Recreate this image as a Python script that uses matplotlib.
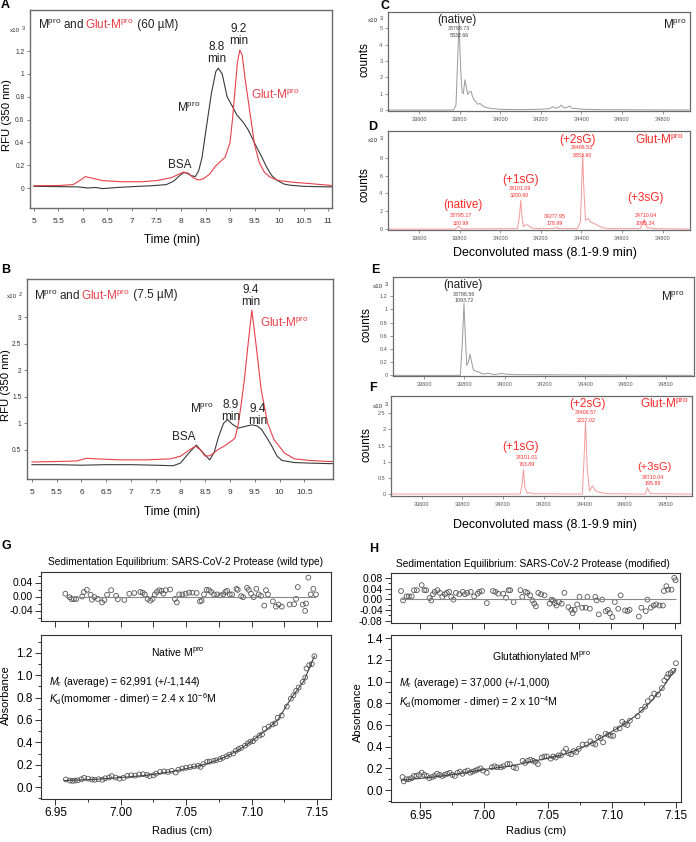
import matplotlib
matplotlib.use('Agg')
import matplotlib.pyplot as plt
from matplotlib import transforms, font_manager
from matplotlib.ticker import MultipleLocator, FormatStrFormatter

plt.rcParams['font.family'] = ['Liberation Sans', 'DejaVu Sans']
plt.rcParams['mathtext.fontset'] = 'custom'
plt.rcParams['mathtext.rm'] = 'Liberation Sans'
plt.rcParams['mathtext.it'] = 'Liberation Sans:italic'
plt.rcParams['mathtext.bf'] = 'Liberation Sans:bold'
plt.rcParams['axes.unicode_minus'] = False

W, H = 696, 842
installed = {f.name for f in font_manager.fontManager.ttflist}
if 'Liberation Sans Narrow' in installed:
    NARROW = ['Liberation Sans Narrow', 'DejaVu Sans']
    TICK_Y, TICK_X = 5.5, 6.5
else:
    NARROW = ['Liberation Sans', 'DejaVu Sans']
    TICK_Y, TICK_X = 4.8, 6.0
BLACK = '#3a3a3a'
RED = '#e8404a'
PINK = '#f49a9a'
LBLRED = '#ff2a2a'
GRAY = '#9a9a9a'
MPRO = r'M$^{\rm pro}$'
GLUT = r'Glut-M$^{\rm pro}$'

# ---- A: SEC, 60 uM (x10^3 RFU)
a_time_black = [5.0, 5.5, 5.9, 6.1, 6.25, 6.4, 6.55, 6.7, 7.0, 7.4, 7.7, 7.85, 7.95, 8.05, 8.12, 8.2,
                8.29, 8.36, 8.43, 8.52, 8.62, 8.71, 8.76, 8.84, 8.94, 9.01, 9.14, 9.28, 9.37, 9.45,
                9.54, 9.65, 9.75, 9.85, 9.95, 10.1, 10.22, 10.5, 11.0, 11.08]
a_rfu_black = [0.015, 0.012, 0.01, 0.0, 0.005, -0.005, 0.0, 0.005, 0.012, 0.02, 0.03, 0.06, 0.1, 0.135,
               0.13, 0.11, 0.1, 0.15, 0.27, 0.54, 0.83, 1.02, 1.05, 1.0, 0.8, 0.745, 0.64, 0.57, 0.51,
               0.44, 0.36, 0.27, 0.18, 0.11, 0.07, 0.035, 0.025, 0.015, 0.01, 0.01]
a_time_red = [5.0, 5.5, 5.8, 5.95, 6.05, 6.2, 6.4, 6.8, 7.2, 7.5, 7.8, 7.95, 8.05, 8.15, 8.25, 8.35,
              8.45, 8.58, 8.7, 8.8, 8.9, 9.0, 9.05, 9.1, 9.15, 9.2, 9.25, 9.3, 9.4, 9.5, 9.6, 9.7,
              9.8, 9.9, 10.0, 10.3, 10.6, 11.0, 11.08]
a_rfu_red = [0.02, 0.022, 0.03, 0.07, 0.1, 0.085, 0.065, 0.055, 0.055, 0.065, 0.09, 0.12, 0.14, 0.13,
             0.09, 0.07, 0.08, 0.12, 0.19, 0.23, 0.27, 0.4, 0.6, 0.85, 1.1, 1.21, 1.16, 0.98, 0.68,
             0.38, 0.22, 0.14, 0.1, 0.08, 0.065, 0.05, 0.04, 0.025, 0.02]

# ---- B: SEC, 7.5 uM (x10^2 RFU)
b_time_black = [5.0, 5.5, 6.0, 6.5, 7.0, 7.5, 7.85, 8.0, 8.15, 8.32, 8.45, 8.59, 8.68, 8.77, 8.87,
                8.95, 9.05, 9.17, 9.3, 9.44, 9.55, 9.64, 9.75, 9.85, 9.95, 10.05, 10.3, 10.6, 11.0, 11.08]
b_rfu_black = [0.22, 0.22, 0.21, 0.22, 0.22, 0.21, 0.2, 0.25, 0.42, 0.59, 0.45, 0.31, 0.45, 0.75, 1.0,
               1.07, 0.98, 0.91, 0.94, 0.97, 0.95, 0.88, 0.72, 0.56, 0.38, 0.3, 0.26, 0.25, 0.24, 0.24]
b_time_red = [5.0, 5.5, 5.9, 6.1, 6.3, 6.8, 7.3, 7.8, 8.0, 8.15, 8.3, 8.4, 8.5, 8.6, 8.75, 8.9, 9.05,
              9.1, 9.16, 9.22, 9.29, 9.36, 9.44, 9.53, 9.63, 9.76, 9.89, 10.1, 10.3, 10.6, 11.0, 11.08]
b_rfu_red = [0.27, 0.28, 0.29, 0.34, 0.33, 0.31, 0.31, 0.33, 0.38, 0.48, 0.57, 0.5, 0.38, 0.39, 0.5,
             0.58, 0.68, 0.72, 0.95, 1.32, 1.82, 2.45, 3.13, 2.45, 1.63, 1.0, 0.69, 0.44, 0.33, 0.3,
             0.28, 0.28]

# ---- C-F: deconvoluted mass spectra (x10^3 counts)
c_mass = [33450, 33770, 33782, 33790, 33797, 33805, 33812, 33818, 33826, 33833, 33840, 33848, 33856,
          33864, 33872, 33880, 33890, 33900, 33910, 33920, 33935, 33950, 33970, 34000, 34100, 34200,
          34240, 34260, 34275, 34290, 34300, 34315, 34330, 34340, 34355, 34380, 34400, 34500, 34930]
c_counts = [0, 0, 0.3, 3.0, 5.33, 2.5, 1.1, 1.0, 1.85, 1.4, 0.95, 1.1, 1.15, 0.8, 0.6, 0.5, 0.35, 0.4,
            0.3, 0.2, 0.15, 0.1, 0.08, 0.04, 0.02, 0.05, 0.08, 0.2, 0.1, 0.18, 0.3, 0.12, 0.15, 0.25,
            0.1, 0.08, 0.05, 0.02, 0]
d_mass = [33450, 33780, 33795, 33810, 34085, 34095, 34101, 34108, 34115, 34125, 34135, 34145, 34160,
          34200, 34270, 34278, 34286, 34380, 34395, 34400, 34406, 34412, 34420, 34433, 34445, 34466,
          34480, 34495, 34510, 34550, 34690, 34705, 34710, 34716, 34725, 34740, 34760, 34930]
d_counts = [0, 0, 0.32, 0.02, 0.05, 1.5, 3.2, 1.2, 0.3, 0.45, 0.5, 0.25, 0.1, 0.05, 0.08, 0.18, 0.06,
            0.05, 0.8, 4.0, 8.35, 4.5, 1.0, 1.2, 0.8, 0.6, 0.4, 0.25, 0.12, 0.05, 0.05, 0.8, 1.1, 0.5,
            0.1, 0.15, 0.05, 0]
e_mass = [33450, 33780, 33790, 33798, 33806, 33812, 33820, 33828, 33836, 33845, 33860, 33872, 33890,
          33920, 33950, 33985, 34000, 34050, 34930]
e_counts = [0, 0, 0.5, 1.09, 0.5, 0.15, 0.2, 0.32, 0.2, 0.08, 0.06, 0.05, 0.02, 0.03, 0.01, 0.03,
            0.02, 0.01, 0]
f_mass = [33450, 34085, 34095, 34101, 34108, 34120, 34132, 34145, 34390, 34398, 34406, 34414, 34425,
          34440, 34455, 34470, 34490, 34520, 34700, 34705, 34710, 34716, 34725, 34930]
f_counts = [0, 0, 0.35, 0.76, 0.2, 0.02, 0.05, 0.01, 0, 1.0, 2.23, 0.8, 0.1, 0.25, 0.1, 0.06, 0.03,
            0.01, 0, 0.1, 0.2, 0.1, 0.01, 0]

# ---- G: sedimentation equilibrium, wild type
g_radius = [6.958, 6.961, 6.963, 6.965, 6.967, 6.970, 6.972, 6.975, 6.978, 6.980, 6.983, 6.986, 6.988,
            6.991, 6.993, 6.996, 6.999, 7.002, 7.005, 7.008, 7.011, 7.014, 7.017, 7.020, 7.022, 7.025,
            7.027, 7.030, 7.033, 7.036, 7.039, 7.042, 7.044, 7.047, 7.050, 7.053, 7.056, 7.059, 7.061,
            7.063, 7.066, 7.068, 7.071, 7.073, 7.076, 7.078, 7.081, 7.083, 7.086, 7.088, 7.090, 7.092,
            7.095, 7.097, 7.099, 7.101, 7.103, 7.106, 7.108, 7.110, 7.113, 7.116, 7.118, 7.120, 7.123,
            7.127, 7.130, 7.132, 7.134, 7.136, 7.139, 7.141, 7.142, 7.144, 7.146, 7.148]
g_abs = [0.068, 0.058, 0.055, 0.058, 0.06, 0.07, 0.082, 0.075, 0.068, 0.065, 0.07, 0.065, 0.078, 0.085,
         0.098, 0.085, 0.075, 0.082, 0.1, 0.105, 0.102, 0.112, 0.115, 0.108, 0.098, 0.105, 0.12, 0.135,
         0.14, 0.135, 0.145, 0.13, 0.155, 0.165, 0.172, 0.178, 0.185, 0.19, 0.18, 0.205, 0.225, 0.228,
         0.235, 0.24, 0.25, 0.262, 0.275, 0.29, 0.3, 0.325, 0.34, 0.35, 0.37, 0.39, 0.405, 0.41, 0.435,
         0.46, 0.47, 0.52, 0.54, 0.56, 0.57, 0.62, 0.64, 0.72, 0.79, 0.82, 0.86, 0.89, 0.94, 0.98, 1.06,
         1.09, 1.1, 1.17]
g_fit_r = [6.957, 6.98, 7.00, 7.02, 7.04, 7.06, 7.07, 7.08, 7.09, 7.10, 7.11, 7.12, 7.13, 7.14, 7.148]
g_fit_a = [0.058, 0.068, 0.085, 0.105, 0.14, 0.19, 0.225, 0.27, 0.33, 0.41, 0.5, 0.6, 0.79, 0.95, 1.17]
g_res_r = [6.9576, 6.9609, 6.9622, 6.9642, 6.9660, 6.9705, 6.9718, 6.9741, 6.9769, 6.9779, 6.9799,
           6.9824, 6.9857, 6.9875, 6.9895, 6.9926, 6.9964, 6.9977, 7.0027, 7.0065, 7.0103, 7.0149,
           7.0167, 7.0184, 7.0205, 7.0225, 7.0243, 7.0260, 7.0276, 7.0293, 7.0311, 7.0326, 7.0344,
           7.0377, 7.0413, 7.0428, 7.0446, 7.0471, 7.0496, 7.0522, 7.0547, 7.0580, 7.0605, 7.0618,
           7.0636, 7.0656, 7.0674, 7.0691, 7.0712, 7.0737, 7.0762, 7.0783, 7.0800, 7.0813, 7.0833,
           7.0851, 7.0884, 7.0894, 7.0920, 7.0935, 7.0965, 7.0978, 7.0996, 7.1016, 7.1036, 7.1054,
           7.1072, 7.1097, 7.1110, 7.1125, 7.1163, 7.1186, 7.1206, 7.1231, 7.1290, 7.1325, 7.1340,
           7.1353, 7.1391, 7.1409, 7.1416, 7.1434, 7.1452, 7.1472, 7.1492]
g_res = [0.008, -0.002, -0.007, -0.008, -0.007, 0.0, 0.013, 0.019, 0.005, -0.009, -0.002, -0.007,
         -0.017, -0.010, 0.005, 0.018, 0.002, -0.008, -0.010, 0.008, 0.010, 0.013, 0.011, 0.006,
         -0.007, -0.012, -0.007, 0.006, 0.013, 0.018, 0.016, 0.008, 0.018, 0.020, -0.007, -0.017,
         0.006, 0.006, 0.008, 0.011, 0.011, 0.010, -0.014, -0.012, 0.006, 0.019, 0.018, 0.013, 0.006,
         0.006, 0.003, 0.006, 0.013, 0.016, 0.006, 0.006, 0.022, 0.019, 0.001, -0.002, 0.025, 0.019,
         0.008, -0.002, 0.022, 0.006, 0.002, -0.026, 0.018, 0.006, -0.014, -0.029, -0.023, -0.029,
         -0.023, -0.022, -0.007, 0.027, -0.023, -0.041, -0.020, 0.054, 0.006, 0.022, 0.006]

# ---- H: sedimentation equilibrium, modified
h_radius = [6.936, 6.937, 6.939, 6.941, 6.943, 6.945, 6.947, 6.949, 6.951, 6.953, 6.955, 6.957, 6.959,
            6.961, 6.963, 6.965, 6.967, 6.969, 6.971, 6.973, 6.975, 6.977, 6.979, 6.981, 6.983, 6.985,
            6.987, 6.989, 6.991, 6.993, 6.995, 6.997, 6.999, 7.002, 7.006, 7.008, 7.010, 7.013, 7.015,
            7.018, 7.020, 7.023, 7.025, 7.030, 7.032, 7.034, 7.036, 7.038, 7.040, 7.042, 7.045, 7.047,
            7.049, 7.052, 7.054, 7.056, 7.058, 7.060, 7.062, 7.064, 7.066, 7.068, 7.070, 7.072, 7.074,
            7.077, 7.080, 7.083, 7.085, 7.087, 7.089, 7.091, 7.093, 7.095, 7.097, 7.099, 7.101, 7.103,
            7.106, 7.108, 7.110, 7.112, 7.114, 7.120, 7.123, 7.126, 7.128, 7.131, 7.133, 7.136, 7.139,
            7.141, 7.143, 7.144, 7.146, 7.148, 7.150]
h_abs = [0.12, 0.08, 0.10, 0.10, 0.11, 0.13, 0.13, 0.14, 0.16, 0.14, 0.13, 0.11, 0.12, 0.13, 0.15,
         0.14, 0.13, 0.14, 0.15, 0.16, 0.14, 0.13, 0.16, 0.17, 0.15, 0.17, 0.18, 0.16, 0.17, 0.18, 0.19,
         0.20, 0.18, 0.16, 0.21, 0.22, 0.21, 0.21, 0.22, 0.24, 0.24, 0.21, 0.20, 0.27, 0.25, 0.27, 0.28,
         0.27, 0.26, 0.24, 0.30, 0.31, 0.31, 0.29, 0.31, 0.30, 0.32, 0.32, 0.35, 0.38, 0.34, 0.33, 0.36,
         0.35, 0.38, 0.42, 0.42, 0.45, 0.43, 0.42, 0.49, 0.48, 0.44, 0.52, 0.51, 0.50, 0.50, 0.56, 0.57,
         0.63, 0.61, 0.60, 0.64, 0.68, 0.74, 0.77, 0.82, 0.85, 0.89, 0.88, 0.94, 1.01, 1.04, 1.07, 1.08,
         1.10, 1.17]
h_fit_r = [6.935, 6.96, 6.98, 7.00, 7.02, 7.04, 7.06, 7.07, 7.08, 7.09, 7.10, 7.11, 7.12, 7.13, 7.14, 7.15]
h_fit_a = [0.09, 0.12, 0.15, 0.19, 0.22, 0.27, 0.32, 0.36, 0.41, 0.47, 0.54, 0.61, 0.70, 0.81, 0.95, 1.12]
h_res_r = [6.9349, 6.9365, 6.9392, 6.9411, 6.9433, 6.9451, 6.9473, 6.9511, 6.9532, 6.9546, 6.9573,
           6.9586, 6.9600, 6.9613, 6.9635, 6.9654, 6.9673, 6.9694, 6.9708, 6.9726, 6.9743, 6.9761,
           6.9780, 6.9807, 6.9834, 6.9850, 6.9869, 6.9896, 6.9923, 6.9950, 6.9964, 6.9985, 7.0023,
           7.0071, 7.0090, 7.0112, 7.0152, 7.0174, 7.0193, 7.0206, 7.0233, 7.0287, 7.0301, 7.0327,
           7.0341, 7.0363, 7.0381, 7.0395, 7.0408, 7.0427, 7.0449, 7.0476, 7.0516, 7.0530, 7.0543,
           7.0557, 7.0570, 7.0589, 7.0611, 7.0632, 7.0664, 7.0686, 7.0697, 7.0713, 7.0732, 7.0751,
           7.0772, 7.0799, 7.0813, 7.0832, 7.0875, 7.0885, 7.0902, 7.0929, 7.0956, 7.0974, 7.0988,
           7.1009, 7.1028, 7.1055, 7.1074, 7.1109, 7.1128, 7.1144, 7.1217, 7.1236, 7.1271, 7.1284,
           7.1311, 7.1333, 7.1352, 7.1379, 7.1406, 7.1414, 7.1433, 7.1446, 7.1473, 7.1495, 7.1505]
h_res = [0.031, -0.004, 0.011, 0.011, 0.011, 0.034, 0.034, 0.053, 0.034, 0.034, 0.005, -0.004, 0.019,
         0.028, 0.034, 0.024, 0.009, 0.019, 0.024, 0.028, 0.009, -0.001, 0.024, 0.019, 0.028, 0.019,
         0.024, 0.028, 0.011, 0.021, 0.028, 0.031, -0.014, 0.031, 0.028, 0.021, 0.021, 0.006, 0.034,
         0.034, -0.010, 0.034, 0.009, 0.028, 0.024, 0.015, -0.004, -0.016, -0.026, 0.024, 0.019, 0.015,
         -0.016, -0.001, -0.004, -0.014, -0.023, -0.010, -0.016, 0.024, -0.029, -0.039, -0.051, -0.039,
         -0.019, 0.009, -0.031, -0.031, 0.009, -0.035, 0.009, -0.004, -0.056, -0.001, -0.044, -0.039,
         -0.051, -0.066, -0.010, -0.035, 0.015, -0.041, -0.044, -0.039, -0.064, -0.031, -0.044, -0.001,
         -0.031, -0.023, -0.019, -0.023, -0.023, 0.031, 0.049, 0.036, 0.036, 0.080, 0.071]


def rect(x0, y0, x1, y1):
    return [x0 / W, 1 - y1 / H, (x1 - x0) / W, (y1 - y0) / H]


def ftext(fig, x, y, s, **kw):
    return fig.text(x / W, 1 - y / H, s, **kw)


def multicolor(ax, x, y, parts, size=8.5):
    renderer = ax.figure.canvas.get_renderer()
    t = ax.transData
    for s, c in parts:
        txt = ax.text(x, y, s, color=c, transform=t, fontsize=size, va='center', ha='left')
        ex = txt.get_window_extent(renderer)
        t = transforms.offset_copy(txt.get_transform(), x=ex.width, units='dots')


def x10(fig, x, y, p):
    ftext(fig, x, y, 'x10', fontsize=4.5, family=NARROW, va='center', ha='left', color='#333')
    ftext(fig, x + 12, y - 2, p, fontsize=4, family=NARROW, va='center', ha='left', color='#333')


def chrom_axes(ax, xlim, ylim, xticks, yticks):
    ax.set_xlim(xlim)
    ax.set_ylim(ylim)
    ax.set_xticks(xticks, labels=['%g' % v for v in xticks], family=NARROW, fontsize=TICK_X)
    ax.set_yticks(yticks, labels=['%g' % v for v in yticks], family=NARROW, fontsize=TICK_Y)
    for s in ax.spines.values():
        s.set_color('#6a6a6a')
        s.set_linewidth(1.0)
    ax.tick_params(length=2.5, width=0.6, color='#6a6a6a', pad=1.5, labelcolor='#333')
    ax.tick_params(axis='x', pad=5)


def spec_axes(ax, ylim, yticks, xlim=(33447, 34935)):
    ax.set_xlim(xlim)
    ax.set_ylim(ylim)
    xt = [33600, 33800, 34000, 34200, 34400, 34600, 34800]
    ax.set_xticks(xt, labels=[str(v) for v in xt], fontsize=4)
    ax.set_yticks(yticks, labels=['%g' % v for v in yticks], fontsize=4)
    for s in ax.spines.values():
        s.set_color('#6a6a6a')
        s.set_linewidth(0.9)
    ax.tick_params(length=2, width=0.5, color='#6a6a6a', pad=2, labelcolor='#555')


def sed_axes(axr, axm, xlim, rlim, rticks, mlim):
    for ax in (axr, axm):
        ax.set_xlim(xlim)
        ax.xaxis.set_major_locator(MultipleLocator(0.05))
        ax.xaxis.set_minor_locator(MultipleLocator(0.025))
        for s in ax.spines.values():
            s.set_color('#333')
            s.set_linewidth(0.8)
        ax.tick_params(which='both', direction='out', width=0.7, labelsize=8.5, pad=2, color='#333')
        ax.tick_params(which='major', length=4)
        ax.tick_params(which='minor', length=2)
    axr.set_ylim(rlim)
    axr.set_yticks(rticks)
    axr.yaxis.set_minor_locator(MultipleLocator(0.02))
    axr.yaxis.set_major_formatter(FormatStrFormatter('%.2f'))
    axr.tick_params(axis='x', which='both', labelbottom=False, length=4)
    axr.tick_params(axis='y', labelsize=7.5)
    axm.set_ylim(mlim)
    axm.yaxis.set_major_locator(MultipleLocator(0.2))
    axm.yaxis.set_minor_locator(MultipleLocator(0.1))
    axm.yaxis.set_major_formatter(FormatStrFormatter('%.1f'))
    axm.xaxis.set_major_formatter(FormatStrFormatter('%.2f'))


fig = plt.figure(figsize=(W / 100, H / 100), dpi=100)

# ---------------- panel A
ax = fig.add_axes(rect(30, 10, 332, 208))
ax.plot(a_time_black, a_rfu_black, color=BLACK, lw=0.8)
ax.plot(a_time_red, a_rfu_red, color=RED, lw=0.8)
chrom_axes(ax, (4.92, 11.08), (-0.175, 1.56),
           [5, 5.5, 6, 6.5, 7, 7.5, 8, 8.5, 9, 9.5, 10, 10.5, 11], [0, 0.2, 0.4, 0.6, 0.8, 1, 1.2])
ax.text(8.73, 1.08, '8.8\nmin', ha='center', va='bottom', fontsize=8.5, linespacing=1.0, color='#222')
ax.text(9.17, 1.24, '9.2\nmin', ha='center', va='bottom', fontsize=8.5, linespacing=1.0, color='#222')
ax.text(8.16, 0.70, MPRO, ha='center', va='center', fontsize=8.5, color='#222')
ax.text(9.43, 0.82, GLUT, ha='left', va='center', fontsize=8.5, color=RED)
ax.text(7.98, 0.20, 'BSA', ha='center', va='center', fontsize=8.5, color='#222')
multicolor(ax, 5.08, 1.43, [(MPRO + ' and ', '#222'), (GLUT, RED), (' (60 µM)', '#222')])
x10(fig, 10, 30, '3')
ftext(fig, 7, 115, 'RFU (350 nm)', rotation=90, ha='center', va='center', fontsize=8.2)
ftext(fig, 172, 240, 'Time (min)', ha='center', va='center', fontsize=8.5)

# ---------------- panel B
ax = fig.add_axes(rect(27, 279, 333, 479))
ax.plot(b_time_black, b_rfu_black, color=BLACK, lw=0.8)
ax.plot(b_time_red, b_rfu_red, color=RED, lw=0.8)
chrom_axes(ax, (4.9, 11.08), (-0.05, 3.72),
           [5, 5.5, 6, 6.5, 7, 7.5, 8, 8.5, 9, 9.5, 10, 10.5], [0.5, 1, 1.5, 2, 2.5, 3])
ax.text(9.41, 3.18, '9.4\nmin', ha='center', va='bottom', fontsize=8.5, linespacing=1.0, color='#222')
ax.text(9.61, 2.90, GLUT, ha='left', va='center', fontsize=8.5, color=RED)
ax.text(8.42, 1.27, MPRO, ha='center', va='center', fontsize=8.5, color='#222')
ax.text(9.02, 1.00, '8.9\nmin', ha='center', va='bottom', fontsize=8.5, linespacing=1.0, color='#222')
ax.text(9.55, 0.93, '9.4\nmin', ha='center', va='bottom', fontsize=8.5, linespacing=1.0, color='#222')
ax.text(8.07, 0.75, 'BSA', ha='center', va='center', fontsize=8.5, color='#222')
multicolor(ax, 5.04, 3.41, [(MPRO + ' and ', '#222'), (GLUT, RED), (' (7.5 µM)', '#222')])
x10(fig, 7, 296, '2')
ftext(fig, 6, 385, 'RFU (350 nm)', rotation=90, ha='center', va='center', fontsize=8.2)
ftext(fig, 172, 512, 'Time (min)', ha='center', va='center', fontsize=8.5)

# ---------------- panel C
ax = fig.add_axes(rect(388, 12, 690, 111))
ax.plot(c_mass, c_counts, color=GRAY, lw=0.7)
spec_axes(ax, (-0.06, 6.0), [0, 1, 2, 3, 4, 5])
ax.text(33785, 5.5, '(native)', ha='center', va='center', fontsize=8.5, color='#222')
ax.text(33798, 4.97, '33798.73', ha='center', va='center', fontsize=3.8, color='#444')
ax.text(33798, 4.56, '5332.66', ha='center', va='center', fontsize=3.8, color='#444')
ax.text(34860, 5.2, MPRO, ha='center', va='center', fontsize=8.5, color='#222')
x10(fig, 368, 20, '3')
ftext(fig, 364, 60, 'counts', rotation=90, ha='center', va='center', fontsize=8.5)

# ---------------- panel D
ax = fig.add_axes(rect(388, 131, 690, 230))
ax.plot(d_mass, d_counts, color=PINK, lw=0.7)
spec_axes(ax, (-0.1, 11.0), [0, 2, 4, 6, 8])
for x, y, s, fs in [(34381, 10.0, '(+2sG)', 8.5), (34403, 9.1, '34406.53', 3.8), (34403, 8.3, '8353.60', 3.8),
                    (34100, 5.5, '(+1sG)', 8.5), (34095, 4.5, '34101.09', 3.8), (34095, 3.8, '3200.60', 3.8),
                    (33817, 2.7, '(native)', 8.5), (33805, 1.57, '33795.17', 3.8), (33805, 0.67, '320.99', 3.8),
                    (34269, 1.46, '34277.95', 3.8), (34269, 0.67, '178.99', 3.8),
                    (34715, 3.5, '(+3sG)', 8.5), (34715, 1.57, '34710.04', 3.8), (34715, 0.67, '1095.24', 3.8)]:
    ax.text(x, y, s, ha='center', va='center', fontsize=fs, color=LBLRED)
ax.text(34785, 10.0, GLUT, ha='center', va='center', fontsize=8.5, color=LBLRED)
x10(fig, 368, 140, '3')
ftext(fig, 364, 185, 'counts', rotation=90, ha='center', va='center', fontsize=8.5)
ftext(fig, 545, 253, 'Deconvoluted mass (8.1-9.9 min)', ha='center', va='center', fontsize=9)

# ---------------- panel E
ax = fig.add_axes(rect(393, 277, 694, 376))
ax.plot(e_mass, e_counts, color=GRAY, lw=0.7)
spec_axes(ax, (-0.01, 1.49), [0, 0.2, 0.4, 0.6, 0.8, 1, 1.2], xlim=(33446, 34939))
ax.text(33795, 1.37, '(native)', ha='center', va='center', fontsize=8.5, color='#222')
ax.text(33798, 1.23, '33798.56', ha='center', va='center', fontsize=3.8, color='#444')
ax.text(33798, 1.13, '1093.72', ha='center', va='center', fontsize=3.8, color='#444')
ax.text(34835, 1.19, MPRO, ha='center', va='center', fontsize=8.5, color='#222')
x10(fig, 373, 287, '3')
ftext(fig, 366, 325, 'counts', rotation=90, ha='center', va='center', fontsize=8.5)

# ---------------- panel F
ax = fig.add_axes(rect(391, 396, 692, 496))
ax.plot(f_mass, f_counts, color=PINK, lw=0.7)
spec_axes(ax, (-0.06, 3.03), [0, 0.5, 1, 1.5, 2, 2.5], xlim=(33450, 34929))
for x, y, s, fs in [(34415, 2.78, '(+2sG)', 8.5), (34408, 2.53, '34406.57', 3.8), (34408, 2.28, '2227.02', 3.8),
                    (34085, 1.44, '(+1sG)', 8.5), (34118, 1.13, '34101.01', 3.8), (34118, 0.91, '763.89', 3.8),
                    (34743, 0.84, '(+3sG)', 8.0), (34735, 0.52, '34710.04', 3.8), (34735, 0.33, '195.88', 3.8)]:
    ax.text(x, y, s, ha='center', va='center', fontsize=fs, color=LBLRED)
ax.text(34795, 2.78, GLUT, ha='center', va='center', fontsize=8.5, color=LBLRED)
x10(fig, 373, 406, '3')
ftext(fig, 366, 445, 'counts', rotation=90, ha='center', va='center', fontsize=8.5)
ftext(fig, 545, 525, 'Deconvoluted mass (8.1-9.9 min)', ha='center', va='center', fontsize=9)

# ---------------- panel G
axr = fig.add_axes(rect(41, 572, 331, 621))
axm = fig.add_axes(rect(41, 635, 331, 799))
axr.scatter(g_res_r, g_res, s=12, facecolors='none', edgecolors='#555', linewidths=0.6)
axr.hlines(0, g_res_r[0], g_res_r[-1], color='#888', lw=0.8)
axm.scatter(g_radius, g_abs, s=12, facecolors='none', edgecolors='#555', linewidths=0.6)
axm.plot(g_fit_r, g_fit_a, color='#444', lw=0.8)
sed_axes(axr, axm, (6.939, 7.1607), (-0.07, 0.07), [-0.04, 0, 0.04], (-0.107, 1.36))
axm.text(7.0435, 1.2, 'Native ' + MPRO, ha='center', va='center', fontsize=7.5)
axm.text(6.9454, 0.94, r'$M_{\rm r}$ (average) = 62,991 (+/-1,144)', ha='left', va='center', fontsize=7.5)
axm.text(6.9454, 0.79, r'$K_{\rm d}$(momomer - dimer) = 2.4 x 10$^{-6}$M', ha='left', va='center', fontsize=7.5)
ftext(fig, 185, 562, 'Sedimentation Equilibrium: SARS-CoV-2 Protease (wild type)', ha='center', va='center', fontsize=7.3)
ftext(fig, 182, 831, 'Radius (cm)', ha='center', va='center', fontsize=8)
ftext(fig, 6, 695, 'Absorbance', rotation=90, ha='center', va='center', fontsize=8)

# ---------------- panel H
axr = fig.add_axes(rect(391, 573, 680, 623))
axm = fig.add_axes(rect(391, 635, 681, 802))
axr.scatter(h_res_r, h_res, s=12, facecolors='none', edgecolors='#555', linewidths=0.6)
axr.hlines(0, h_res_r[0], h_res_r[-1], color='#888', lw=0.8)
axm.scatter(h_radius, h_abs, s=12, facecolors='none', edgecolors='#555', linewidths=0.6)
axm.plot(h_fit_r, h_fit_a, color='#444', lw=0.8)
sed_axes(axr, axm, (6.927, 7.154), (-0.088, 0.098), [-0.08, -0.04, 0, 0.04, 0.08], (-0.11, 1.43))
axm.text(7.0445, 1.225, 'Glutathionylated ' + MPRO, ha='center', va='center', fontsize=7.5)
axm.text(6.933, 0.985, r'$M_{\rm r}$ (average) = 37,000 (+/-1,000)', ha='left', va='center', fontsize=7.5)
axm.text(6.933, 0.81, r'$K_{\rm d}$(momomer - dimer) = 2 x 10$^{-4}$M', ha='left', va='center', fontsize=7.5)
ftext(fig, 533, 564, 'Sedimentation Equilibrium: SARS-CoV-2 Protease (modified)', ha='center', va='center', fontsize=7.3)
ftext(fig, 536, 831, 'Radius (cm)', ha='center', va='center', fontsize=8)
ftext(fig, 358, 712, 'Absorbance', rotation=90, ha='center', va='center', fontsize=8)

# panel letters
for x, y, s in [(5, 5, 'A'), (6, 270, 'B'), (385, 6, 'C'), (373, 127, 'D'), (375, 270, 'E'),
                (373, 388, 'F'), (6, 546, 'G'), (374, 549, 'H')]:
    ftext(fig, x, y, s, ha='center', va='center', fontsize=9, fontweight='bold')

fig.savefig('out.png', dpi=100)
